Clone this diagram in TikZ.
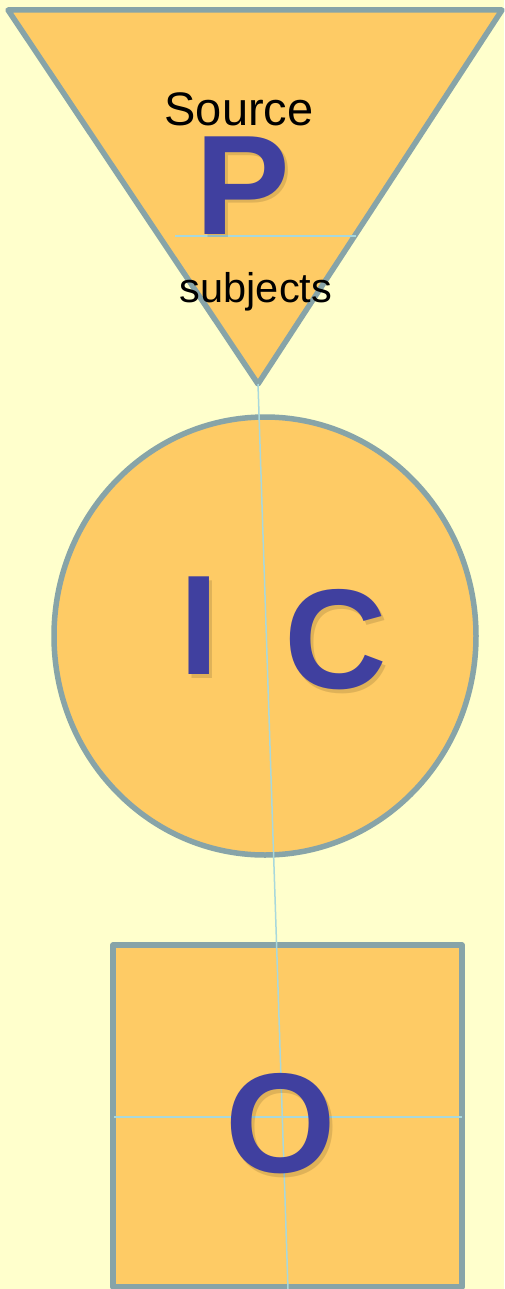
\documentclass[tikz,border=0pt]{standalone}
\usepackage{fontspec}
\setmainfont{Liberation Sans}
\definecolor{bg}{HTML}{FFFFCC}
\definecolor{shapefill}{HTML}{FECB65}
\definecolor{shapeline}{HTML}{87A4A8}
\definecolor{guide}{HTML}{A8D8DC}
\definecolor{letter}{HTML}{40409F}
\tikzset{
  shapestyle/.style={fill=shapefill, draw=shapeline, line width=5.5pt, line join=round},
  guideline/.style={draw=guide, line width=1.5pt},
  wordlabel/.style={inner sep=0pt, anchor=base, text=black},
  bigletter/.style={inner sep=0pt, anchor=base, text=letter,
    font=\fontsize{142}{142}\selectfont\bfseries},
  lettershadow/.style={inner sep=0pt, anchor=base, text=black, opacity=0.12,
    font=\fontsize{142}{142}\selectfont\bfseries}
}
\begin{document}
\begin{tikzpicture}[x=1pt,y=-1pt]
\useasboundingbox (0,0) rectangle (504,1289);
\fill[bg] (0,0) rectangle (504,1289);
% shapes
\coordinate (tl) at (8,10);
\coordinate (tr) at (502,10);
\coordinate (apex) at (258,384);
\draw[shapestyle] (tl) -- (tr) -- (apex) -- cycle;
\draw[shapestyle] (265,636) ellipse [x radius=211, y radius=219];
\draw[shapestyle] (113,945) rectangle (462,1287);
% guide lines
\coordinate (pl) at (175,236);
\coordinate (pr) at (356,236);
\draw[guideline] (pl) -- (pr);
\coordinate (ol) at (114,1117);
\coordinate (or) at (462,1117);
\draw[guideline] (ol) -- (or);
\coordinate (bottom) at (288,1289);
\draw[guideline] (apex) -- (bottom);
% words
\node[wordlabel, font=\fontsize{47}{47}\selectfont] (source) at (239,126) {Source};
\node[wordlabel, font=\fontsize{41.5}{41.5}\selectfont] (subjects) at (256,302) {subjects};
% letters with soft shadows
\node[lettershadow] (Ps) at (246,238) {P};
\node[bigletter] (P) at (243,234) {P};
\node[lettershadow] (Is) at (202,678) {I};
\node[bigletter] (I) at (199,674) {I};
\node[lettershadow] (Cs) at (339,692) {C};
\node[bigletter] (C) at (336,688) {C};
\node[lettershadow] (Os) at (284,1176) {O};
\node[bigletter] (O) at (281,1172) {O};
\end{tikzpicture}
\end{document}
